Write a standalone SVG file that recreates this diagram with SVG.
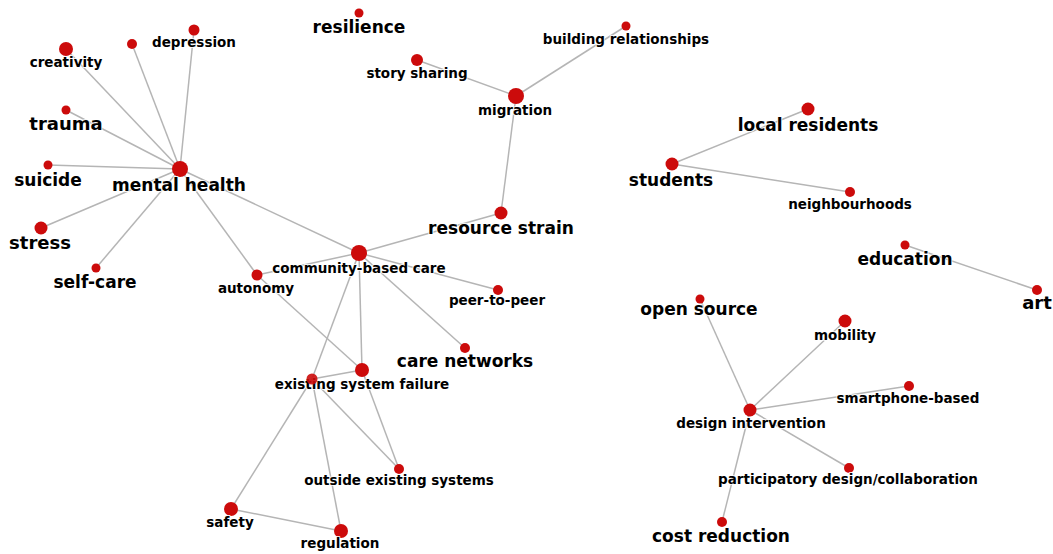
<svg xmlns="http://www.w3.org/2000/svg" width="1053" height="554" viewBox="0 0 1053 554">
  <style>
    .edge { stroke: #b5b5b5; stroke-width: 1.5; fill: none; }
    .dot { fill: #cc0b0b; }
    .lbl { font-family: "DejaVu Sans", Verdana, sans-serif; font-weight: bold; fill: #000; text-anchor: middle; stroke: #fff; stroke-width: 2; stroke-opacity: 0.85; stroke-linejoin: round; paint-order: stroke; }
    .s { font-size: 13.5px; }
    .l { font-size: 17px; }
    .xl { font-size: 18px; }
  </style>
  <rect width="1053" height="554" fill="#fff"/>

  <!-- connectors -->
  <g id="edges">
    <line class="edge" x1="180" y1="169" x2="66" y2="49"/>
    <line class="edge" x1="180" y1="169" x2="132" y2="44"/>
    <line class="edge" x1="180" y1="169" x2="194" y2="30"/>
    <line class="edge" x1="180" y1="169" x2="66" y2="110"/>
    <line class="edge" x1="180" y1="169" x2="48" y2="165"/>
    <line class="edge" x1="180" y1="169" x2="41" y2="228"/>
    <line class="edge" x1="180" y1="169" x2="96" y2="268"/>
    <line class="edge" x1="180" y1="169" x2="257" y2="275"/>
    <line class="edge" x1="180" y1="169" x2="359" y2="253"/>
    <line class="edge" x1="257" y1="275" x2="359" y2="253"/>
    <line class="edge" x1="257" y1="275" x2="362" y2="370"/>
    <line class="edge" x1="359" y1="253" x2="501" y2="213"/>
    <line class="edge" x1="501" y1="213" x2="516" y2="96"/>
    <line class="edge" x1="516" y1="96" x2="417" y2="60"/>
    <line class="edge" x1="516" y1="96" x2="626" y2="26"/>
    <line class="edge" x1="359" y1="253" x2="498" y2="290"/>
    <line class="edge" x1="359" y1="253" x2="465" y2="348"/>
    <line class="edge" x1="359" y1="253" x2="362" y2="370"/>
    <line class="edge" x1="359" y1="253" x2="312" y2="379"/>
    <line class="edge" x1="312" y1="379" x2="362" y2="370"/>
    <line class="edge" x1="312" y1="379" x2="231" y2="509"/>
    <line class="edge" x1="312" y1="379" x2="341" y2="531"/>
    <line class="edge" x1="312" y1="379" x2="399" y2="469"/>
    <line class="edge" x1="362" y1="370" x2="399" y2="469"/>
    <line class="edge" x1="231" y1="509" x2="341" y2="531"/>
    <line class="edge" x1="808" y1="109" x2="672" y2="164"/>
    <line class="edge" x1="672" y1="164" x2="850" y2="192"/>
    <line class="edge" x1="905" y1="245" x2="1037" y2="290"/>
    <line class="edge" x1="750" y1="410" x2="700" y2="299"/>
    <line class="edge" x1="750" y1="410" x2="845" y2="321"/>
    <line class="edge" x1="750" y1="410" x2="909" y2="386"/>
    <line class="edge" x1="750" y1="410" x2="849" y2="468"/>
    <line class="edge" x1="750" y1="410" x2="722" y2="522"/>
  </g>

  <!-- nodes -->
  <g id="n-creativity"><circle class="dot" cx="66" cy="49" r="7"/><text class="lbl s" x="66" y="67">creativity</text></g>
  <g id="n-unnamed"><circle class="dot" cx="132" cy="44" r="5"/></g>
  <g id="n-depression"><circle class="dot" cx="194" cy="30" r="5.5"/><text class="lbl s" x="194" y="47">depression</text></g>
  <g id="n-trauma"><circle class="dot" cx="66" cy="110" r="4.5"/><text class="lbl xl" x="66" y="130">trauma</text></g>
  <g id="n-suicide"><circle class="dot" cx="48" cy="165" r="4.5"/><text class="lbl l" x="48" y="186">suicide</text></g>
  <g id="n-mental-health"><circle class="dot" cx="180" cy="169" r="8"/><text class="lbl l" x="179" y="191">mental health</text></g>
  <g id="n-stress"><circle class="dot" cx="41" cy="228" r="6.5"/><text class="lbl xl" x="40" y="249">stress</text></g>
  <g id="n-self-care"><circle class="dot" cx="96" cy="268" r="4.5"/><text class="lbl l" x="95" y="288">self-care</text></g>
  <g id="n-autonomy"><circle class="dot" cx="257" cy="275" r="5.5"/><text class="lbl s" x="256" y="293">autonomy</text></g>
  <g id="n-community-based-care"><circle class="dot" cx="359" cy="253" r="8"/><text class="lbl s" x="359" y="273">community-based care</text></g>
  <g id="n-resilience"><circle class="dot" cx="359" cy="13" r="4.5"/><text class="lbl l" x="359" y="33">resilience</text></g>
  <g id="n-building-relationships"><circle class="dot" cx="626" cy="26" r="4.5"/><text class="lbl s" x="626" y="44">building relationships</text></g>
  <g id="n-story-sharing"><circle class="dot" cx="417" cy="60" r="6"/><text class="lbl s" x="417" y="78">story sharing</text></g>
  <g id="n-migration"><circle class="dot" cx="516" cy="96" r="8"/><text class="lbl s" x="515" y="115">migration</text></g>
  <g id="n-resource-strain"><circle class="dot" cx="501" cy="213" r="6.5"/><text class="lbl l" x="501" y="234">resource strain</text></g>
  <g id="n-local-residents"><circle class="dot" cx="808" cy="109" r="6.5"/><text class="lbl l" x="808" y="131">local residents</text></g>
  <g id="n-students"><circle class="dot" cx="672" cy="164" r="6.5"/><text class="lbl l" x="671" y="186">students</text></g>
  <g id="n-neighbourhoods"><circle class="dot" cx="850" cy="192" r="5"/><text class="lbl s" x="850" y="209">neighbourhoods</text></g>
  <g id="n-education"><circle class="dot" cx="905" cy="245" r="4.5"/><text class="lbl l" x="905" y="265">education</text></g>
  <g id="n-art"><circle class="dot" cx="1037" cy="290" r="5"/><text class="lbl xl" x="1037" y="309">art</text></g>
  <g id="n-open-source"><circle class="dot" cx="700" cy="299" r="4.5"/><text class="lbl l" x="699" y="315">open source</text></g>
  <g id="n-mobility"><circle class="dot" cx="845" cy="321" r="6.5"/><text class="lbl s" x="845" y="340">mobility</text></g>
  <g id="n-smartphone-based"><circle class="dot" cx="909" cy="386" r="5"/><text class="lbl s" x="908" y="403">smartphone-based</text></g>
  <g id="n-design-intervention"><circle class="dot" cx="750" cy="410" r="6.5"/><text class="lbl s" x="751" y="428">design intervention</text></g>
  <g id="n-participatory"><circle class="dot" cx="849" cy="468" r="5"/><text class="lbl s" x="848" y="484">participatory design/collaboration</text></g>
  <g id="n-cost-reduction"><circle class="dot" cx="722" cy="522" r="5"/><text class="lbl l" x="721" y="542">cost reduction</text></g>
  <g id="n-peer-to-peer"><circle class="dot" cx="498" cy="290" r="5"/><text class="lbl s" x="497" y="305">peer-to-peer</text></g>
  <g id="n-care-networks"><circle class="dot" cx="465" cy="348" r="5"/><text class="lbl l" x="465" y="367">care networks</text></g>
  <g id="n-existing-system-failure"><circle class="dot" cx="362" cy="370" r="7"/><text class="lbl s" x="362" y="389">existing system failure</text></g>
  <!-- junction dot sits over the label it shares space with -->
  <g id="n-system-junction"><circle class="dot" cx="312" cy="379" r="5.5" opacity="0.9"/></g>
  <g id="n-outside-existing-systems"><circle class="dot" cx="399" cy="469" r="5"/><text class="lbl s" x="399" y="485">outside existing systems</text></g>
  <g id="n-safety"><circle class="dot" cx="231" cy="509" r="7"/><text class="lbl s" x="230" y="527">safety</text></g>
  <g id="n-regulation"><circle class="dot" cx="341" cy="531" r="7"/><text class="lbl s" x="340" y="548">regulation</text></g>
</svg>
